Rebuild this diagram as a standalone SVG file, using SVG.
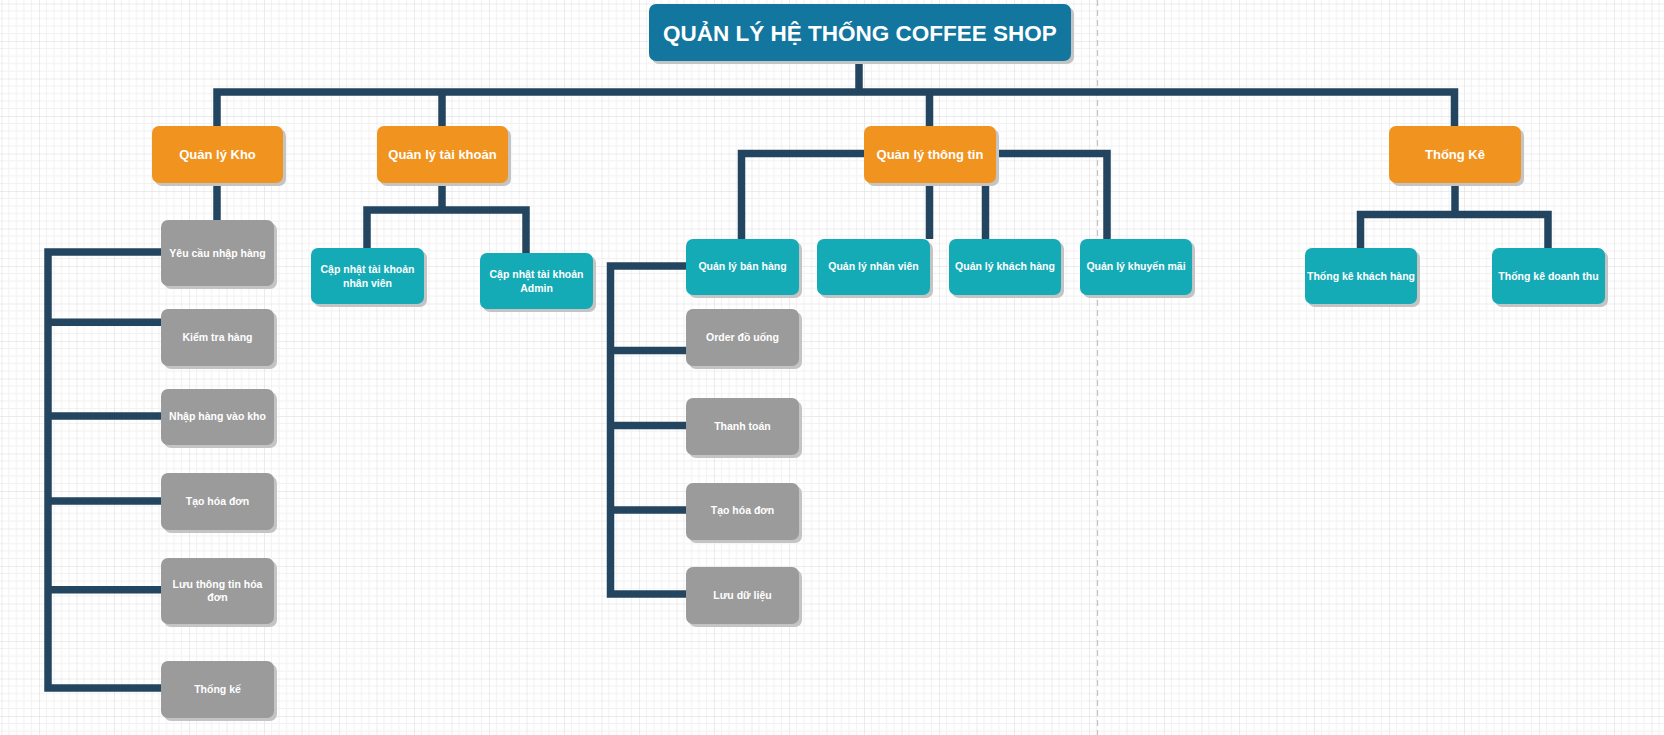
<svg xmlns="http://www.w3.org/2000/svg" width="1664" height="735" viewBox="0 0 1664 735">
<defs>
<pattern id="grid" x="1.5" y="3.5" width="37.5" height="37.5" patternUnits="userSpaceOnUse">
<path d="M7.5 0V37.5M15 0V37.5M22.5 0V37.5M30 0V37.5M0 7.5H37.5M0 15H37.5M0 22.5H37.5M0 30H37.5" stroke="#f1f1f1" stroke-width="1" fill="none"/>
<path d="M0 0V37.5M0 0H37.5" stroke="#dadada" stroke-width="1" fill="none"/>
</pattern>
<style>
.sh{fill:#c4c4c4}
.title{fill:#13769f}
.l1{fill:#f1931f}
.l2{fill:#14aab6}
.l3{fill:#9b9b9b}
text{font-family:"Liberation Sans",Arial,sans-serif;font-weight:bold;fill:#ffffff;text-anchor:middle}
.t0{font-size:22.5px}
.t1{font-size:13px}
.t2{font-size:10.5px}
.con{fill:none;stroke:#23455f;stroke-width:7.5;stroke-linejoin:miter;stroke-linecap:butt}
</style>
</defs>
<rect x="0" y="0" width="1664" height="735" fill="#ffffff"/>
<rect x="0" y="0" width="1664" height="735" fill="url(#grid)"/>
<line x1="1097.5" y1="0" x2="1097.5" y2="735" stroke="#c4c4c4" stroke-width="1.2" stroke-dasharray="6 4"/>

<g id="connectors" class="con">
<path d="M859 61V92"/>
<path d="M217 126V92H1454.5V126"/>
<path d="M442 92V126"/>
<path d="M929.5 92V126"/>
<path d="M217 183V220"/>
<path d="M161 252H48V688H161"/>
<path d="M48 322.3H161M48 416H161M48 501H161M48 589.7H161"/>
<path d="M442 183V210"/>
<path d="M367 248V210H526V253"/>
<path d="M864 153.5H741.5V239"/>
<path d="M996 153.5H1107V239"/>
<path d="M929.5 183V239M985.5 183V239"/>
<path d="M686 266H610.5V594H686"/>
<path d="M610.5 350.5H686M610.5 425.5H686M610.5 510H686"/>
<path d="M1455 183V214.5"/>
<path d="M1360.5 248V214.5H1548V248"/>
</g>

<g id="n_title"><rect class="sh" x="652" y="7" width="422" height="57" rx="7"/><rect class="title" x="649" y="4" width="422" height="57" rx="7"/><text class="t0" x="860" y="40.7">QUẢN LÝ HỆ THỐNG COFFEE SHOP</text></g>

<g id="n_kho"><rect class="sh" x="155" y="129" width="131" height="57" rx="7"/><rect class="l1" x="152" y="126" width="131" height="57" rx="7"/><text class="t1" x="217.5" y="159">Quản lý Kho</text></g>
<g id="n_taikhoan"><rect class="sh" x="380" y="129" width="131" height="57" rx="7"/><rect class="l1" x="377" y="126" width="131" height="57" rx="7"/><text class="t1" x="442.5" y="159">Quản lý tài khoản</text></g>
<g id="n_thongtin"><rect class="sh" x="867" y="129" width="132" height="57" rx="7"/><rect class="l1" x="864" y="126" width="132" height="57" rx="7"/><text class="t1" x="930" y="159">Quản lý thông tin</text></g>
<g id="n_thongke"><rect class="sh" x="1392" y="129" width="132" height="57" rx="7"/><rect class="l1" x="1389" y="126" width="132" height="57" rx="7"/><text class="t1" x="1455" y="159">Thống Kê</text></g>

<g id="n_cn_nv"><rect class="sh" x="314" y="251" width="113" height="56" rx="7"/><rect class="l2" x="311" y="248" width="113" height="56" rx="7"/><text class="t2" x="367.5" y="273">Cập nhật tài khoản</text><text class="t2" x="367.5" y="287">nhân viên</text></g>
<g id="n_cn_admin"><rect class="sh" x="483" y="256" width="113" height="56" rx="7"/><rect class="l2" x="480" y="253" width="113" height="56" rx="7"/><text class="t2" x="536.5" y="278">Cập nhật tài khoản</text><text class="t2" x="536.5" y="292">Admin</text></g>
<g id="n_banhang"><rect class="sh" x="689" y="242" width="113" height="56" rx="7"/><rect class="l2" x="686" y="239" width="113" height="56" rx="7"/><text class="t2" x="742.5" y="270">Quản lý bán hàng</text></g>
<g id="n_nhanvien"><rect class="sh" x="820" y="242" width="113" height="56" rx="7"/><rect class="l2" x="817" y="239" width="113" height="56" rx="7"/><text class="t2" x="873.5" y="270">Quản lý nhân viên</text></g>
<g id="n_khachhang"><rect class="sh" x="952" y="242" width="112" height="56" rx="7"/><rect class="l2" x="949" y="239" width="112" height="56" rx="7"/><text class="t2" x="1005" y="270">Quản lý khách hàng</text></g>
<g id="n_khuyenmai"><rect class="sh" x="1083" y="242" width="112" height="56" rx="7"/><rect class="l2" x="1080" y="239" width="112" height="56" rx="7"/><text class="t2" x="1136" y="270">Quản lý khuyến mãi</text></g>
<g id="n_tk_khachhang"><rect class="sh" x="1308" y="251" width="112" height="56" rx="7"/><rect class="l2" x="1305" y="248" width="112" height="56" rx="7"/><text class="t2" x="1361" y="279.5">Thống kê khách hàng</text></g>
<g id="n_tk_doanhthu"><rect class="sh" x="1495" y="251" width="113" height="56" rx="7"/><rect class="l2" x="1492" y="248" width="113" height="56" rx="7"/><text class="t2" x="1548.5" y="279.5">Thống kê doanh thu</text></g>

<g id="n_yeucau"><rect class="sh" x="164" y="223" width="113" height="66" rx="7"/><rect class="l3" x="161" y="220" width="113" height="66" rx="7"/><text class="t2" x="217.5" y="257">Yêu cầu nhập hàng</text></g>
<g id="n_kiemtra"><rect class="sh" x="164" y="312" width="113" height="57" rx="7"/><rect class="l3" x="161" y="309" width="113" height="57" rx="7"/><text class="t2" x="217.5" y="341">Kiểm tra hàng</text></g>
<g id="n_nhaphang"><rect class="sh" x="164" y="392" width="113" height="56" rx="7"/><rect class="l3" x="161" y="389" width="113" height="56" rx="7"/><text class="t2" x="217.5" y="419.5">Nhập hàng vào kho</text></g>
<g id="n_taohoadon1"><rect class="sh" x="164" y="476" width="113" height="57" rx="7"/><rect class="l3" x="161" y="473" width="113" height="57" rx="7"/><text class="t2" x="217.5" y="504.5">Tạo hóa đơn</text></g>
<g id="n_luuthongtin"><rect class="sh" x="164" y="561" width="113" height="66" rx="7"/><rect class="l3" x="161" y="558" width="113" height="66" rx="7"/><text class="t2" x="217.5" y="588">Lưu thông tin hóa</text><text class="t2" x="217.5" y="601">đơn</text></g>
<g id="n_thongke_kho"><rect class="sh" x="164" y="664" width="113" height="57" rx="7"/><rect class="l3" x="161" y="661" width="113" height="57" rx="7"/><text class="t2" x="217.5" y="692.5">Thống kế</text></g>

<g id="n_order"><rect class="sh" x="689" y="312" width="113" height="57" rx="7"/><rect class="l3" x="686" y="309" width="113" height="57" rx="7"/><text class="t2" x="742.5" y="341">Order đồ uống</text></g>
<g id="n_thanhtoan"><rect class="sh" x="689" y="401" width="113" height="57" rx="7"/><rect class="l3" x="686" y="398" width="113" height="57" rx="7"/><text class="t2" x="742.5" y="429.5">Thanh toán</text></g>
<g id="n_taohoadon2"><rect class="sh" x="689" y="486" width="113" height="57" rx="7"/><rect class="l3" x="686" y="483" width="113" height="57" rx="7"/><text class="t2" x="742.5" y="513.5">Tạo hóa đơn</text></g>
<g id="n_luudulieu"><rect class="sh" x="689" y="570" width="113" height="57" rx="7"/><rect class="l3" x="686" y="567" width="113" height="57" rx="7"/><text class="t2" x="742.5" y="598.5">Lưu dữ liệu</text></g>
</svg>
